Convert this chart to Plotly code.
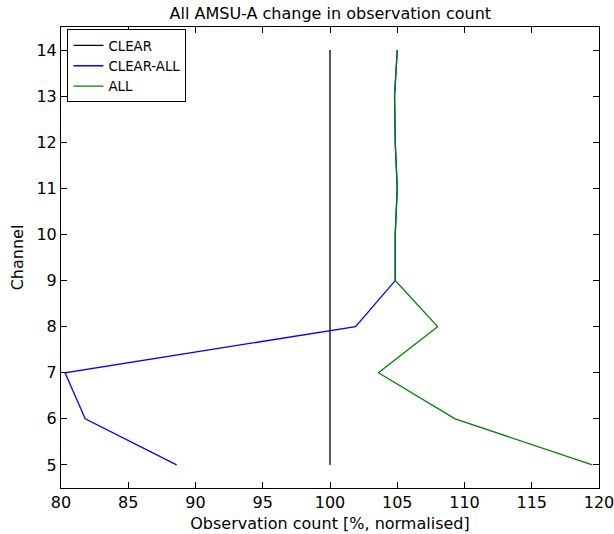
import plotly.graph_objects as go

channels = [5, 6, 7, 8, 9, 10, 11, 12, 13, 14]
clear = [100, 100, 100, 100, 100, 100, 100, 100, 100, 100]
clear_all = [88.6, 81.8, 80.3, 101.9, 104.85, 104.85, 105.0, 104.85, 104.8, 105.0]
all_ = [119.5, 109.3, 103.6, 108.0, 104.85, 104.85, 105.0, 104.85, 104.8, 105.0]

fig = go.Figure()
fig.add_trace(go.Scatter(x=clear, y=channels, mode="lines", name="CLEAR",
                         line=dict(color="black", width=1.3)))
fig.add_trace(go.Scatter(x=clear_all, y=channels, mode="lines", name="CLEAR-ALL",
                         line=dict(color="blue", width=1.3)))
fig.add_trace(go.Scatter(x=all_, y=channels, mode="lines", name="ALL",
                         line=dict(color="green", width=1.3)))

axis_common = dict(showline=True, linecolor="black", linewidth=1, mirror="ticks",
                   ticks="inside", ticklen=6, tickcolor="black", showgrid=False,
                   zeroline=False, automargin=False, ticklabeloverflow="allow",
                   tickfont=dict(size=16, color="black"))

fig.update_layout(
    width=614, height=534,
    margin=dict(l=61, r=15, t=27, b=46),
    plot_bgcolor="white", paper_bgcolor="white",
    font=dict(family="DejaVu Sans", color="black"),
    title=dict(text="All AMSU-A change in observation count", x=0.538, xanchor="center",
               y=0.974, yanchor="middle", font=dict(size=16)),
    xaxis=dict(range=[80, 120], tickvals=[80, 85, 90, 95, 100, 105, 110, 115, 120],
               title=dict(text="Observation count [%, normalised]", font=dict(size=16), standoff=6),
               **axis_common),
    yaxis=dict(range=[4.5, 14.5], tickvals=channels,
               title=dict(text="Channel", font=dict(size=16), standoff=8),
               **axis_common),
    legend=dict(x=0.012, y=0.995, xanchor="left", yanchor="top",
                bordercolor="black", borderwidth=1, bgcolor="white",
                font=dict(size=13.3), tracegroupgap=0),
    showlegend=True,
)

fig.write_html("out.html")
